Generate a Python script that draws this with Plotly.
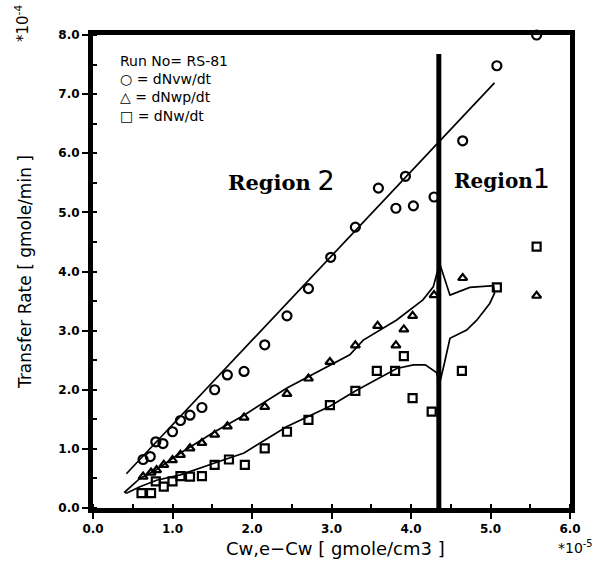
import plotly.graph_objects as go

# ---- data ----
circ_x = [0.63, 0.72, 0.79, 0.88, 1.00, 1.10, 1.22, 1.37, 1.53, 1.69, 1.90, 2.16, 2.44, 2.71, 2.99,
          3.30, 3.59, 3.93, 3.81, 4.03, 4.29, 4.65, 5.08, 5.58]
circ_y = [0.82, 0.87, 1.12, 1.09, 1.29, 1.48, 1.57, 1.70, 2.00, 2.25, 2.31, 2.76, 3.25, 3.71, 4.24,
          4.75, 5.41, 5.61, 5.07, 5.11, 5.26, 6.21, 7.48, 8.00]

tri_x = [0.63, 0.73, 0.80, 0.89, 1.00, 1.10, 1.22, 1.37, 1.53, 1.69, 1.90, 2.16, 2.44, 2.71, 2.98,
         3.30, 3.58, 3.81, 3.91, 4.02, 4.29, 4.65, 5.58]
tri_y = [0.53, 0.60, 0.64, 0.73, 0.81, 0.90, 1.01, 1.10, 1.24, 1.38, 1.53, 1.71, 1.93, 2.19, 2.47,
         2.75, 3.08, 2.75, 3.02, 3.25, 3.60, 3.89, 3.59]

sq_x = [0.61, 0.73, 0.79, 0.89, 1.00, 1.10, 1.22, 1.37, 1.53, 1.71, 1.91, 2.16, 2.44, 2.71, 2.98,
        3.30, 3.57, 3.80, 3.91, 4.02, 4.26, 4.64, 5.08, 5.58]
sq_y = [0.25, 0.25, 0.45, 0.36, 0.45, 0.54, 0.53, 0.54, 0.73, 0.82, 0.73, 1.01, 1.29, 1.49, 1.74,
        1.98, 2.32, 2.32, 2.57, 1.86, 1.63, 2.32, 3.73, 4.42]

# fitted line for dNvw/dt
fit1_x = [0.42, 5.05]
fit1_y = [0.58, 7.19]

# closed fitted curve for dNw/dt (lower branch) and dNwp/dt (upper branch)
fit2_x = [0.42, 0.59, 0.80, 1.10, 1.53, 1.90, 2.44, 2.98, 3.30, 3.82, 4.03, 4.18, 4.32, 4.36,
          4.41, 4.49, 4.70, 4.83, 4.99, 5.05, 5.04, 4.74, 4.49, 4.36,
          4.28, 4.15, 3.82, 3.40, 3.23, 2.44, 1.90, 1.53, 1.10, 0.80, 0.59, 0.44, 0.40, 0.42]
fit2_y = [0.25, 0.36, 0.47, 0.56, 0.76, 0.93, 1.38, 1.72, 1.98, 2.36, 2.42, 2.42, 2.29, 2.11,
          2.39, 2.87, 3.01, 3.18, 3.46, 3.63, 3.76, 3.73, 3.60, 4.14,
          3.74, 3.52, 3.18, 2.84, 2.59, 2.03, 1.57, 1.29, 0.93, 0.65, 0.50, 0.32, 0.27, 0.25]

boundary_x = 4.35
boundary_top = 7.68

x_ticks = [0, 1, 2, 3, 4, 5, 6]
x_labels = ["0.0", "1.0", "2.0", "3.0", "4.0", "5.0", "6.0"]
y_ticks = [0, 1, 2, 3, 4, 5, 6, 7, 8]
y_labels = ["0.0", "1.0", "2.0", "3.0", "4.0", "5.0", "6.0", "7.0", "8.0"]

legend_lines = ["Run No= RS-81", "○ = dNvw/dt", "△ = dNwp/dt", "□ = dNw/dt"]

# ---- figure ----
W, H = 597, 561
L, R, T, B = 93, 27, 35, 53
PW, PH = W - L - R, H - T - B


def px(xp, yp):
    return (xp - L) / PW, (H - B - yp) / PH


fig = go.Figure()

fig.add_trace(go.Scatter(x=fit1_x, y=fit1_y, mode="lines",
                         line=dict(color="black", width=1.7), hoverinfo="skip"))
fig.add_trace(go.Scatter(x=fit2_x, y=fit2_y, mode="lines",
                         line=dict(color="black", width=1.7), hoverinfo="skip"))
fig.add_trace(go.Scatter(x=[boundary_x, boundary_x], y=[0, boundary_top], mode="lines",
                         line=dict(color="black", width=5), hoverinfo="skip"))

fig.add_trace(go.Scatter(x=circ_x, y=circ_y, mode="markers", cliponaxis=False,
                         marker=dict(symbol="circle-open", size=9, color="black",
                                     line=dict(color="black", width=2.2))))
fig.add_trace(go.Scatter(x=tri_x, y=tri_y, mode="markers",
                         marker=dict(symbol="triangle-up-open", size=8, color="black",
                                     line=dict(color="black", width=2.2))))
fig.add_trace(go.Scatter(x=sq_x, y=sq_y, mode="markers",
                         marker=dict(symbol="square-open", size=8, color="black",
                                     line=dict(color="black", width=2.2))))

tickfont = dict(family="DejaVu Sans", size=12, color="black", weight="bold")
common = dict(showgrid=False, zeroline=False, showline=True, linewidth=5, linecolor="black",
              mirror=True, ticks="outside", ticklen=6, tickwidth=2, tickcolor="black",
              tickfont=tickfont,
              minor=dict(dtick=0.5, ticks="inside", ticklen=4, tickwidth=2, tickcolor="black"))
fig.update_xaxes(range=[0, 6], tickvals=x_ticks, ticktext=x_labels, **common)
fig.update_yaxes(range=[0, 8], tickvals=y_ticks, ticktext=y_labels, **common)

anns = []
sans = "DejaVu Sans"


def add_text(xp, yp, text, size=15, family=sans, angle=0, xanchor="center", yanchor="middle"):
    x, y = px(xp, yp)
    anns.append(dict(x=x, y=y, xref="paper", yref="paper", text=text, showarrow=False,
                     xanchor=xanchor, yanchor=yanchor, textangle=angle, align="left",
                     font=dict(family=family, size=size, color="black")))


add_text(118, 51, "<br>".join(legend_lines), size=14, xanchor="left", yanchor="top")

add_text(226, 180, "<b>Region</b> <span style='font-family:DejaVu Sans;font-size:27px'>2</span>",
         size=21, family="DejaVu Serif", xanchor="left")
add_text(452, 178, "<b>Region</b><span style='font-family:DejaVu Sans;font-size:27px'>1</span>",
         size=20, family="DejaVu Serif", xanchor="left")

add_text(25, 272, "Transfer Rate [ gmole/min ]", size=17, angle=-90)
add_text(335, 548, "Cw,e−Cw [ gmole/cm3 ]", size=18)
add_text(22, 24, "*10<sup>-4</sup>", size=15, angle=-90)
add_text(595, 547, "*10<sup>-5</sup>", size=14, xanchor="right")

fig.update_layout(width=W, height=H, margin=dict(l=L, r=R, t=T, b=B),
                  paper_bgcolor="white", plot_bgcolor="white", showlegend=False,
                  annotations=anns)

fig.write_html("out.html")
